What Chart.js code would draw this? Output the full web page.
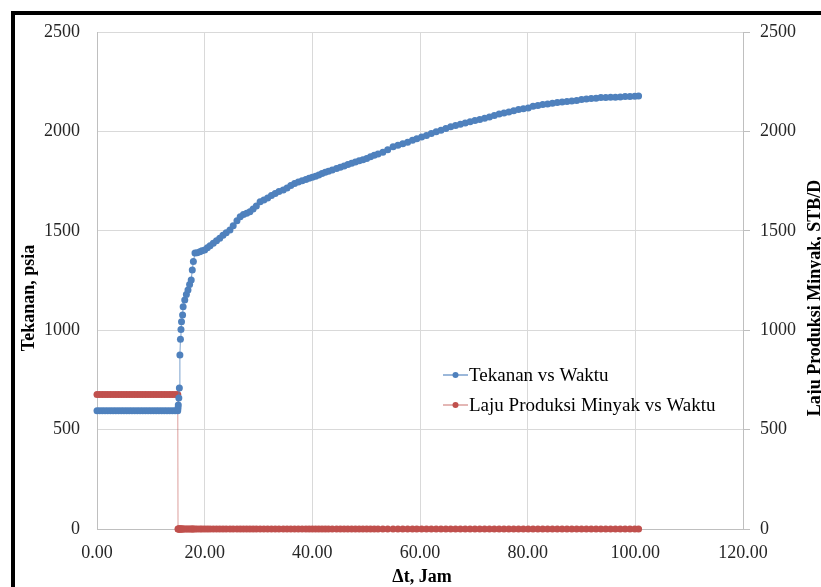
<!DOCTYPE html>
<html>
<head>
<meta charset="utf-8">
<script src="https://cdn.jsdelivr.net/npm/chart.js@4"></script>
<style>
  html, body { margin: 0; padding: 0; background: #fff; overflow: hidden; }
</style>
</head>
<body>
<canvas id="grafik" width="821" height="587"></canvas>
<script>
// waktu (jam), shared by both series
const waktu = [
  0, 0.5, 1, 1.5, 2, 2.5, 3, 3.5, 4, 4.5, 5, 5.5, 6, 6.5, 7, 7.5,
  8, 8.5, 9, 9.5, 10, 10.5, 11, 11.5, 12, 12.5, 13, 13.5, 14, 14.5, 15,
  15.05, 15.1, 15.2, 15.3, 15.4, 15.5, 15.6, 15.7, 15.9, 16.0, 16.3, 16.6, 16.9, 17.2, 17.5, 17.7, 17.9, 18.2,
  18.6, 19.1, 19.5, 20.0, 20.5, 21.0, 21.6, 22.2, 22.8, 23.4,
  24.0, 24.7, 25.3, 26.0, 26.6, 27.2, 27.8, 28.4, 29.0, 29.6,
  30.3, 31.0, 31.7, 32.4, 33.1, 33.8, 34.6, 35.3, 36.0, 36.7,
  37.4, 38.1, 38.8, 39.4, 40.0, 40.6, 41.2, 41.8, 42.4, 43.0,
  43.7, 44.5, 45.2, 45.9, 46.6, 47.3, 48.0, 48.7, 49.4, 50.1,
  50.8, 51.5, 52.2,
  53.1, 54.0, 55.0, 55.9, 56.8, 57.7, 58.6, 59.4, 60.3, 61.2,
  62.1, 63.0, 63.9, 64.8, 65.7, 66.6, 67.5, 68.4, 69.3, 70.2,
  71.1, 72.0, 72.9, 73.8, 74.7, 75.6, 76.5, 77.4, 78.3, 79.2,
  80.1, 81.0, 81.9, 82.8, 83.7, 84.6, 85.5, 86.4, 87.3, 88.2,
  89.1, 90.0, 90.9, 91.8, 92.7, 93.6, 94.5, 95.4, 96.3, 97.2,
  98.1, 99.0, 99.9, 100.6
];

// tekanan (psia)
const tekanan = [
  595, 595, 595, 595, 595, 595, 595, 595, 595, 595, 595, 595, 595, 595, 595, 595,
  595, 595, 595, 595, 595, 595, 595, 595, 595, 595, 595, 595, 595, 595, 595,
  609, 624, 659, 709, 875, 954, 1004, 1043, 1076, 1118, 1152, 1180, 1202, 1230, 1252, 1303, 1345, 1388,
  1390, 1395, 1400, 1403, 1415, 1425, 1437, 1450, 1462, 1478,
  1490, 1504, 1525, 1550, 1571, 1582, 1588, 1596, 1610, 1625,
  1646, 1655, 1665, 1678, 1688, 1698, 1705, 1715, 1728, 1738,
  1745, 1752, 1758, 1764, 1769, 1775, 1781, 1788, 1795, 1800,
  1806, 1814, 1820, 1826, 1833, 1840, 1846, 1852, 1858, 1864,
  1872, 1880, 1886,
  1895, 1908, 1923, 1930, 1938, 1945, 1955, 1963, 1972, 1980,
  1990, 1998, 2006, 2015, 2024, 2030, 2036, 2042, 2048, 2055,
  2060, 2066, 2072, 2080, 2088, 2093, 2098, 2104, 2110, 2114,
  2118, 2126, 2130, 2135, 2138, 2142, 2145, 2148, 2150, 2153,
  2156, 2160, 2163, 2165, 2167, 2170, 2171, 2172, 2172, 2173,
  2175, 2176, 2177, 2178
];

// laju produksi minyak (STB/D)
const laju = [
  677, 677, 677, 677, 677, 677, 677, 677, 677, 677, 677, 677, 677, 677, 677, 677,
  677, 677, 677, 677, 677, 677, 677, 677, 677, 677, 677, 677, 677, 677, 677,
  0, 0, 0, 0, 0, 0, 0, 0, 0, 0, 0, 0, 0, 0, 0, 0, 0, 0,
  0, 0, 0, 0, 0, 0, 0, 0, 0, 0,
  0, 0, 0, 0, 0, 0, 0, 0, 0, 0,
  0, 0, 0, 0, 0, 0, 0, 0, 0, 0,
  0, 0, 0, 0, 0, 0, 0, 0, 0, 0,
  0, 0, 0, 0, 0, 0, 0, 0, 0, 0,
  0, 0, 0,
  0, 0, 0, 0, 0, 0, 0, 0, 0, 0,
  0, 0, 0, 0, 0, 0, 0, 0, 0, 0,
  0, 0, 0, 0, 0, 0, 0, 0, 0, 0,
  0, 0, 0, 0, 0, 0, 0, 0, 0, 0,
  0, 0, 0, 0, 0, 0, 0, 0, 0, 0,
  0, 0, 0, 0
];

const xTickLabels = ['0.00', '20.00', '40.00', '60.00', '80.00', '100.00', '120.00'];
const yTickLabels = ['0', '500', '1000', '1500', '2000', '2500'];
const seriesNames = ['Tekanan vs Waktu', 'Laju Produksi Minyak vs Waktu'];
const seriesColors = ['#4f81bd', '#c0504d'];
const lineColors = ['rgba(79,129,189,0.75)', 'rgba(192,80,77,0.55)'];

const serif = '"Liberation Serif", "Times New Roman", serif';
const tickFont = { family: serif, size: 18 };

// frame, axis titles and the floating legend
const hiasan = {
  id: 'hiasan',
  beforeDraw(chart) {
    const ctx = chart.ctx;
    ctx.save();
    ctx.fillStyle = '#fff';
    ctx.fillRect(0, 0, chart.width, chart.height);
    ctx.fillStyle = '#000';
    ctx.fillRect(11, 11, chart.width - 11, 4);
    ctx.fillRect(11, 11, 4, chart.height - 11);
    ctx.restore();
  },
  afterDraw(chart) {
    const ctx = chart.ctx;
    ctx.save();
    ctx.fillStyle = '#000';
    ctx.font = 'bold 18px ' + serif;
    ctx.textAlign = 'center';
    ctx.textBaseline = 'middle';
    ctx.fillText('\u0394t, Jam', 422, 577);

    ctx.save();
    ctx.translate(29, 298);
    ctx.rotate(-Math.PI / 2);
    ctx.fillText('Tekanan, psia', 0, 0);
    ctx.restore();

    ctx.save();
    ctx.translate(815, 298);
    ctx.rotate(-Math.PI / 2);
    ctx.fillText('Laju Produksi Minyak, STB/D', 0, 0);
    ctx.restore();

    // legend
    ctx.font = '19px ' + serif;
    ctx.textAlign = 'left';
    seriesNames.forEach((name, i) => {
      const y = 375 + i * 30;
      ctx.strokeStyle = lineColors[i];
      ctx.lineWidth = 1.5;
      ctx.beginPath();
      ctx.moveTo(443, y);
      ctx.lineTo(468, y);
      ctx.stroke();
      ctx.fillStyle = seriesColors[i];
      ctx.beginPath();
      ctx.arc(455.5, y, 3, 0, Math.PI * 2);
      ctx.fill();
      ctx.fillStyle = '#000';
      ctx.fillText(name, 469, y + 1);
    });
    ctx.restore();
  }
};

const ctx = document.getElementById('grafik').getContext('2d');
new Chart(ctx, {
  type: 'line',
  data: {
    datasets: [
      {
        label: seriesNames[0],
        data: waktu.map((t, i) => ({ x: t, y: tekanan[i] })),
        yAxisID: 'y',
        borderColor: lineColors[0],
        borderWidth: 1,
        pointRadius: 3.5,
        pointBorderWidth: 0,
        pointBackgroundColor: seriesColors[0],
        tension: 0,
        clip: false
      },
      {
        label: seriesNames[1],
        data: waktu.map((t, i) => ({ x: t, y: laju[i] })),
        yAxisID: 'y2',
        borderColor: lineColors[1],
        borderWidth: 1,
        pointRadius: 3.5,
        pointBorderWidth: 0,
        pointBackgroundColor: seriesColors[1],
        tension: 0,
        clip: false
      }
    ]
  },
  options: {
    responsive: false,
    animation: false,
    layout: { padding: { top: 32, left: 0, right: 0, bottom: 0 } },
    plugins: {
      legend: { display: false },
      tooltip: { enabled: false }
    },
    scales: {
      x: {
        type: 'linear',
        min: 0,
        max: 120,
        ticks: {
          stepSize: 20,
          font: tickFont,
          color: '#262626',
          padding: 13,
          maxRotation: 0,
          callback: (v, i) => xTickLabels[i]
        },
        grid: { color: '#d9d9d9', drawTicks: false },
        border: { color: '#bfbfbf' },
        afterFit: s => { s.height = 58; }
      },
      y: {
        position: 'left',
        min: 0,
        max: 2500,
        ticks: {
          stepSize: 500,
          font: tickFont,
          color: '#262626',
          padding: 17,
          callback: (v, i) => yTickLabels[i]
        },
        grid: { color: '#d9d9d9', drawTicks: false },
        border: { color: '#bfbfbf' },
        afterFit: s => { s.width = 97; }
      },
      y2: {
        position: 'right',
        min: 0,
        max: 2500,
        ticks: {
          stepSize: 500,
          font: tickFont,
          color: '#262626',
          padding: 10,
          callback: (v, i) => yTickLabels[i]
        },
        grid: { drawOnChartArea: false, drawTicks: true, tickLength: 7, color: '#bfbfbf' },
        border: { color: '#bfbfbf' },
        afterFit: s => { s.width = 78; }
      }
    }
  },
  plugins: [hiasan]
});
</script>
</body>
</html>
